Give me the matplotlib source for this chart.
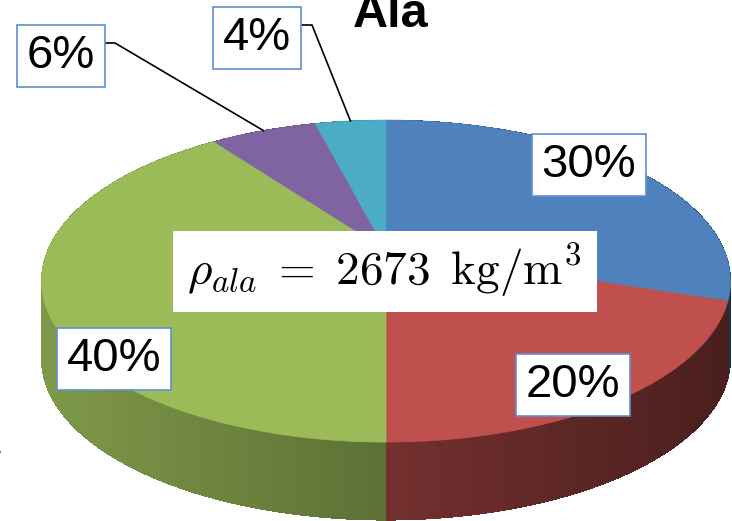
import numpy as np
import matplotlib
matplotlib.use('Agg')
import matplotlib.pyplot as plt
from matplotlib.patches import Polygon, Rectangle
from matplotlib.collections import PolyCollection

plt.rcParams['mathtext.fontset'] = 'cm'
plt.rcParams['font.family'] = ['Liberation Sans', 'DejaVu Sans']

# data
values = [30, 20, 40, 6, 4]
top_colors = ['#4F81BD', '#C0504D', '#9BBB59', '#8064A2', '#4BACC6']
label_pos = [(589, 165), (573, 385), (114, 359), (61, 56), (257, 38)]
title = 'Ala'
density_text = r'$\rho_{ala}\;=\;2673\ \,\mathrm{kg/m^3}$'

# perspective pie geometry (pixels)
cx, vy = 386, 250
g, s, k = 338, 155, 0.193
depth = 78


def proj(phi, dy=0):
    u, v = np.cos(phi), np.sin(phi)
    x = cx + g * u / (1 + k * v)
    y = vy - s * v / (1 + k * v) + dy
    return x, y


def shade(col, x):
    # side wall gets darker from left to right
    rgb = np.array(matplotlib.colors.to_rgb(col))
    f = 0.82 - 0.44 * (x - 41) / 690
    return tuple(np.clip(rgb * f, 0, 1))


fig = plt.figure(figsize=(7.32, 5.21), dpi=100)
ax = fig.add_axes([0, 0, 1, 1])
ax.set_xlim(0, 732)
ax.set_ylim(521, 0)
ax.axis('off')

total = float(sum(values))
cum = np.concatenate([[0], np.cumsum(values)]) / total
starts = np.pi / 2 - 2 * np.pi * cum[:-1]
ends = np.pi / 2 - 2 * np.pi * cum[1:]

# side wall, far to near
quads = []
for i in range(len(values)):
    n = max(int(abs(ends[i] - starts[i]) / 0.004), 2)
    ph = np.linspace(starts[i], ends[i], n)
    for a, b in zip(ph[:-1], ph[1:]):
        x1, y1 = proj(a)
        x2, y2 = proj(b)
        quads.append((np.sin((a + b) / 2), [(x1, y1), (x2, y2), (x2, y2 + depth), (x1, y1 + depth)],
                      shade(top_colors[i], (x1 + x2) / 2)))
quads.sort(key=lambda q: -q[0])
ax.add_collection(PolyCollection([q[1] for q in quads], facecolors=[q[2] for q in quads],
                                 edgecolors='none', antialiased=False))

# top face
for i in range(len(values)):
    ph = np.linspace(starts[i], ends[i], 200)
    xs, ys = proj(ph)
    pts = [(cx, vy)] + list(zip(xs, ys))
    ax.add_patch(Polygon(pts, closed=True, facecolor=top_colors[i], edgecolor=top_colors[i], lw=0.5))

# labels
for i, v in enumerate(values):
    lx, ly = label_pos[i]
    ax.text(lx, ly, f'{v}%', fontsize=34, ha='center', va='center', color='black',
            bbox=dict(boxstyle='square,pad=0.2', facecolor='white', edgecolor='#5F8FCF', lw=1.2))

# leader lines for small slices
elbows = {3: [(104, 43), (115, 43)], 4: [(301, 25), (312, 25)]}
for i, pts in elbows.items():
    mx, my = proj((starts[i] + ends[i]) / 2)
    xs = [p[0] for p in pts] + [mx]
    ys = [p[1] for p in pts] + [my]
    ax.plot(xs, ys, color='black', lw=1.2)

ax.add_patch(Rectangle((173, 231), 424, 81, facecolor='white', edgecolor='none'))
ax.text(384, 271, density_text, fontsize=34, ha='center', va='center')

ax.text(391, 27, title, fontsize=35, fontweight='bold', ha='center', va='baseline')
ax.text(-3, 462, '/', fontsize=10, color='#333333')

fig.savefig('out.png', dpi=100)
